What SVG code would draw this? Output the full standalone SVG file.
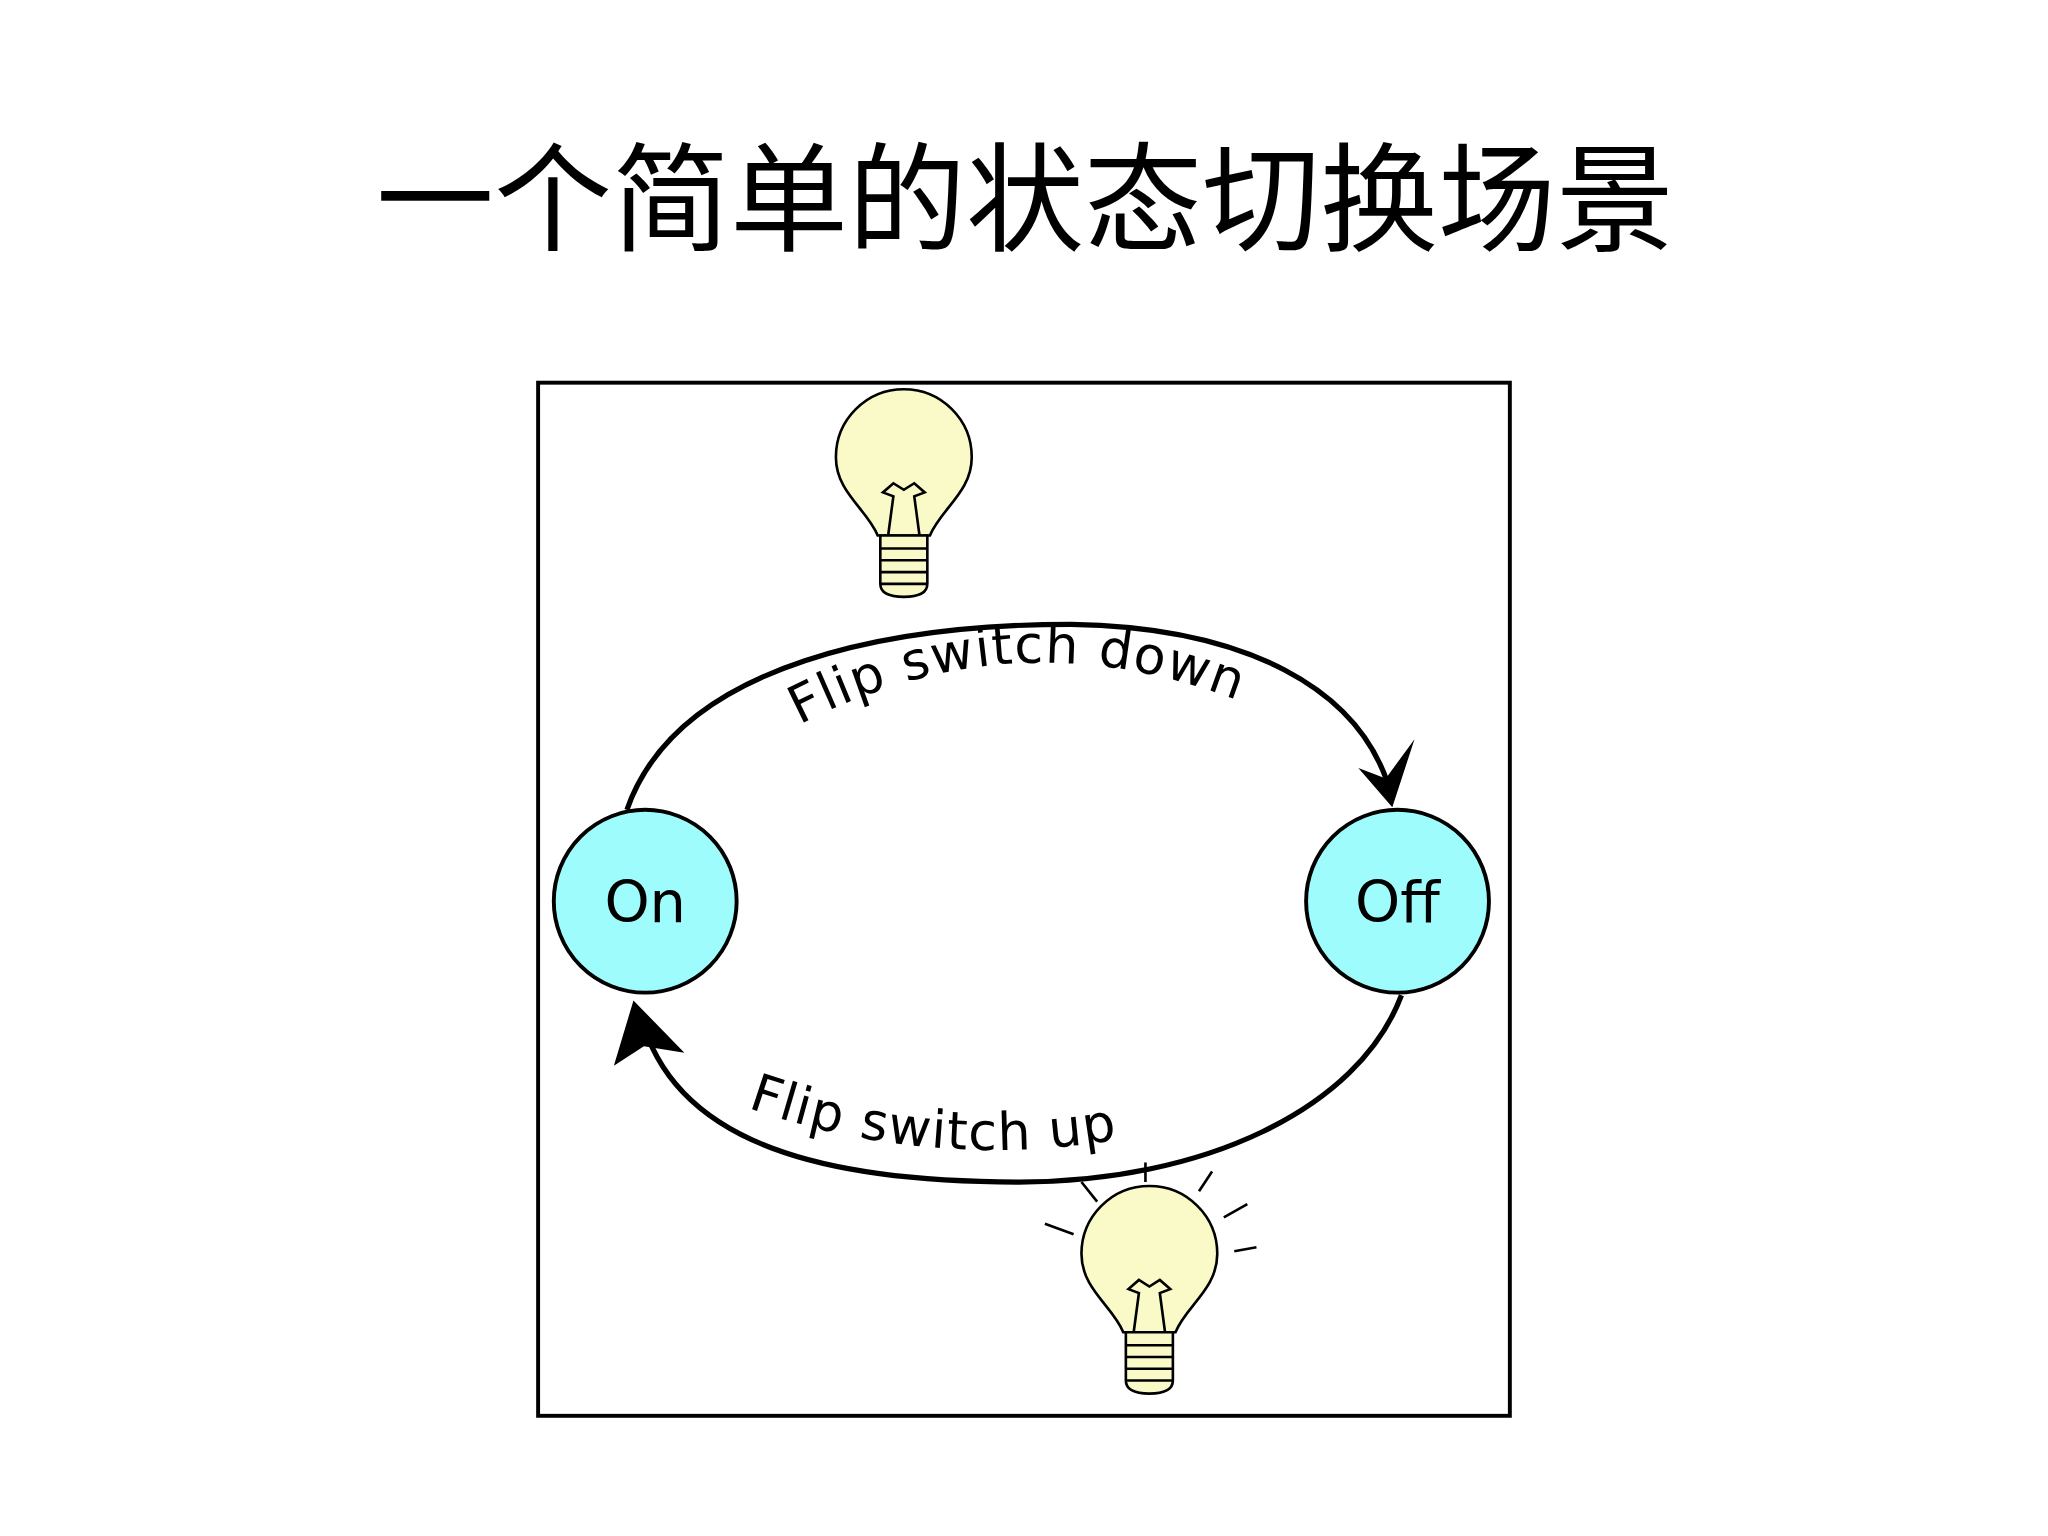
<svg xmlns="http://www.w3.org/2000/svg" width="2048" height="1536" viewBox="0 0 2048 1536">
<defs>
<style>
.st{fill:#9ffcfc;stroke:#000;stroke-width:3}
.lbl{font-family:"DejaVu Sans","Noto Sans",sans-serif;font-size:44px;fill:#000}
.tp{font-family:"DejaVu Sans","Noto Sans",sans-serif;font-size:40px;fill:#000;letter-spacing:1px}
.arc{fill:none;stroke:#000;stroke-width:4}
.bulb{fill:#fafac8;stroke:#000;stroke-width:2}
.ln{stroke:#000;stroke-width:2;fill:none}
</style>
<g id="bulbShape">
<path class="bulb" d="M-20,55 C-28,35 -52,22 -52,-5 A52,52 0 1 1 52,-5 C52,22 28,35 20,55 Z"/>
<path class="ln" d="M-12,55 L-8,25 L-16,22 L-8,15 L0,20 L8,15 L16,22 L8,25 L12,55"/>
<path class="bulb" d="M-18,55 H18 V92 Q18,102 0,102 Q-18,102 -18,92 Z"/>
<path class="ln" d="M-18,65 H18 M-18,74 H18 M-18,83 H18 M-18,92 H18"/>
</g>
<path id="tpTop" d="M612,555 Q805,455 1010,565"/>
<path id="tpBot" d="M572,848 Q735,905 905,862"/>
</defs>
<rect width="2048" height="1536" fill="#fff"/>
<text x="1025" y="242" text-anchor="middle" font-family="'Noto Sans CJK SC','Noto Sans CJK JP',serif" font-size="118" fill="#000">一个简单的状态切换场景</text>
<g transform="scale(1.3061)">
<rect x="412" y="293" width="744" height="791" fill="#fff" stroke="#000" stroke-width="3"/>
<g id="connectors">
<path class="arc" d="M480,620 C520,505 690,478 820,478 C950,480 1045,525 1066,612"/>
<polygon points="1066,618 1040,588 1061,596 1083,566" fill="#000"/>
<path class="arc" d="M1073,762 C1040,850 920,905 780,905 C640,905 515,880 490,775"/>
<polygon points="485,766 470,816 493,801 524,806" fill="#000"/>
<text class="tp"><textPath href="#tpTop">Flip switch down</textPath></text>
<text class="tp"><textPath href="#tpBot">Flip switch up</textPath></text>
</g>
<g id="on"><circle class="st" cx="494" cy="690" r="70"/><text class="lbl" x="494" y="706" text-anchor="middle">On</text></g>
<g id="off"><circle class="st" cx="1070" cy="690" r="70"/><text class="lbl" x="1070" y="706" text-anchor="middle">Off</text></g>
<g id="bulbTop"><use href="#bulbShape" transform="translate(692,355)"/></g>
<g id="bulbBottom"><use href="#bulbShape" transform="translate(880,965)"/>
<path class="ln" stroke-width="3" d="M800,937 L822,945 M828,905 L840,920 M877,890 L877,905 M928,897 L918,912 M955,922 L937,932 M962,955 L945,958"/></g>
</g>
</svg>
